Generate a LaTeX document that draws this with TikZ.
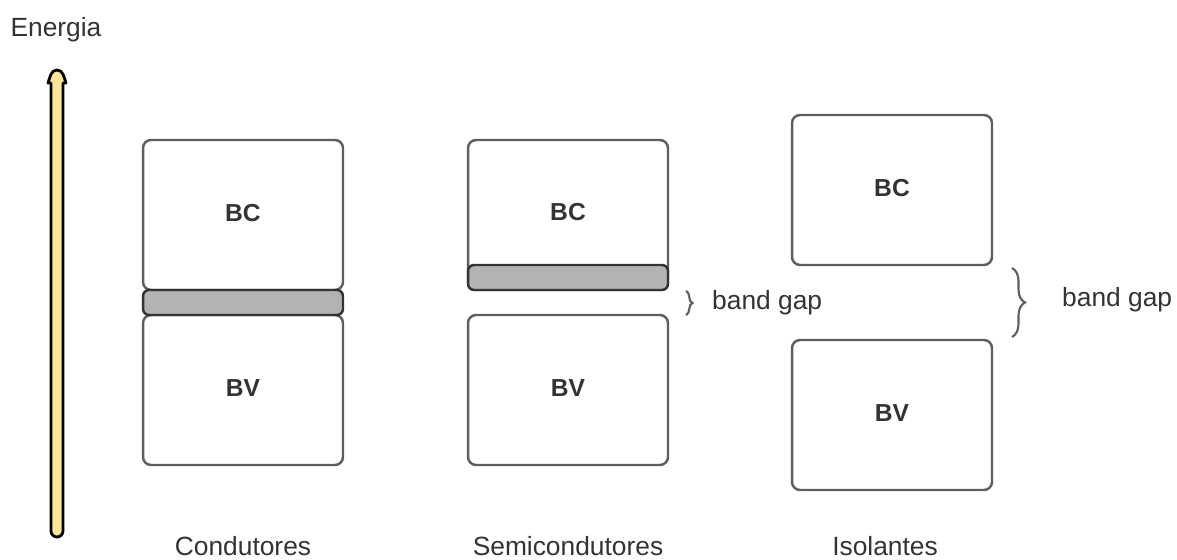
\documentclass[tikz,border=0pt]{standalone}
\usepackage{fontspec}
\setmainfont{Liberation Sans}
\usetikzlibrary{decorations.pathreplacing}

\definecolor{boxline}{HTML}{5E5E5E}
\definecolor{gapline}{HTML}{333333}
\definecolor{gapfill}{HTML}{B3B3B3}
\definecolor{txtgray}{HTML}{333333}
\definecolor{arrowfill}{HTML}{FFE59A}

\tikzset{
  band/.style={draw=boxline, fill=white, line width=1.4pt, rounded corners=0.16cm,
    minimum width=4cm, minimum height=3cm, inner sep=0pt,
    text=txtgray, font=\fontsize{14}{16}\selectfont\bfseries},
  level/.style={draw=gapline, fill=gapfill, line width=1.4pt, rounded corners=0.12cm,
    minimum width=4cm, minimum height=0.5cm, inner sep=0pt},
  caption/.style={text=txtgray, font=\fontsize{15}{18}\selectfont},
  gapbrace/.style={draw=boxline, line width=1.2pt, decorate}
}

\begin{document}
\begin{tikzpicture}[x=0.02cm,y=-0.02cm]
\useasboundingbox (0,0) rectangle (1177,560);
            % Energy axis
\node[caption] (energia) at (56,30) {Energia};
\coordinate (axtop) at (57,70);
\coordinate (axbot) at (57,537);
\filldraw[draw=black, fill=arrowfill, line width=1.6pt, line join=round]
  (51,83) -- (51,531) arc[start angle=180, end angle=0, radius=6] -- (63,83)
  -- (66,83) to[out=110, in=0] (axtop) to[out=180, in=70] (48,83) -- cycle;
%Condutores
\node[band] (cbc) at (243,215) {\raisebox{2pt}{BC}};
\node[band] (cbv) at (243,390) {\raisebox{2pt}{BV}};
\node[level] (cgap) at (243,302.5) {};
\node[caption] (cond) at (243,546) {Condutores};
%Semicondutores
\node[band] (sbc) at (568,215) {\raisebox{3pt}{BC}};
\node[level] (sgap) at (568,277.5) {};
\node[band] (sbv) at (568,390) {\raisebox{2pt}{BV}};
\node[caption] (semi) at (568,546) {Semicondutores};
\draw[gapbrace, decoration={brace, amplitude=0.13cm}] (686,291) -- (686,315);
\node[caption, anchor=west] (sgaptxt) at (706,303) {band gap};
%Isolantes
\node[band] (ibc) at (892,190) {\raisebox{2pt}{BC}};
\node[band] (ibv) at (892,415) {\raisebox{2pt}{BV}};
\node[caption] (isol) at (885,546) {Isolantes};
\draw[gapbrace, decoration={brace, amplitude=0.26cm}] (1012,268) -- (1012,337);
\node[caption, anchor=west] (igaptxt) at (1056,300) {band gap};

          \end{tikzpicture}
\end{document}
